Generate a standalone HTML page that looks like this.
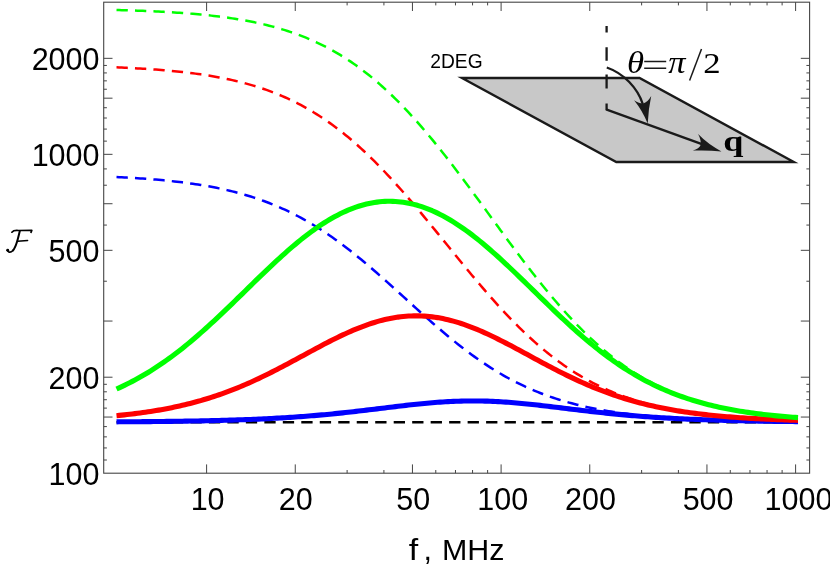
<!DOCTYPE html>
<html><head><meta charset="utf-8"><title>F vs f</title>
<style>
html,body{margin:0;padding:0;background:#fff;}
body{width:830px;height:570px;overflow:hidden;font-family:"Liberation Sans",sans-serif;}
svg{display:block;will-change:transform}
text{font-family:"Liberation Sans",sans-serif;fill:#000}
.ser{font-family:"Liberation Serif",serif}
</style></head><body>
<svg width="830" height="570" viewBox="0 0 830 570">
<rect width="830" height="570" fill="#fff"/>
<!-- inset -->
<g id="inset">
<polygon points="462,78 639.5,78 793.8,162 616.3,162" fill="#c8c8c8" stroke="#1a1a1a" stroke-width="2.4" stroke-linejoin="miter" stroke-miterlimit="10"/>
<path d="M606.6,26.1V32.6 M606.6,47.2V60.7 M606.6,74.4V88.4 M606.6,103.5V110" stroke="#1a1a1a" stroke-width="2.3" fill="none"/>
<path d="M606,109.3 L704,144.9" stroke="#1a1a1a" stroke-width="2.4" fill="none" stroke-linecap="butt"/>
<path d="M721.5,151.4 Q707,149.9 692.8,150.6 Q699.3,148.5 700.6,145 Q701.3,140 698.1,134.1 Q708.3,144.6 721.5,151.4 Z" fill="#1a1a1a"/>
<path d="M606.8,67.5 C624,73.5 637.5,88 642.8,104" stroke="#1a1a1a" stroke-width="2.3" fill="none"/>
<path d="M647.7,123.4 Q642.3,110.5 634.1,100.2 Q639.5,103.6 643.2,103.4 Q647.5,102.5 651.2,96 Q648.4,109 647.7,123.4 Z" fill="#1a1a1a"/>
<text x="430.3" y="67.8" font-size="20.6" textLength="52.3" lengthAdjust="spacingAndGlyphs" fill="#1a1a1a">2DEG</text>
<g>
<text class="ser" transform="translate(626.9,72.8) scale(1.097,1)" font-size="31.7" font-style="italic" fill="#1a1a1a">θ</text>
<text class="ser" transform="translate(668.2,72.8) scale(1.104,1)" font-size="31.2" font-style="italic" fill="#1a1a1a">π</text>
<text class="ser" transform="translate(703.2,72.5) scale(1.152,1)" font-size="30.15" fill="#1a1a1a">2</text>
<text class="ser" transform="translate(723.35,151.3) scale(1.208,1)" font-size="30" font-weight="bold" fill="#1a1a1a">q</text>
</g>
<path d="M644.2,61.6H666.2 M644.2,68.2H666.2" stroke="#1a1a1a" stroke-width="1.5" fill="none"/>
<path d="M689.6,80.4L701.5,49" stroke="#1a1a1a" stroke-width="1.5" fill="none"/>
</g>
<!-- curves -->
<g fill="none" stroke-linejoin="round">
<path d="M116.5,422.2 H798" stroke="#000" stroke-width="2.4" stroke-dasharray="11.3 7.18"/>
<g stroke-width="2.5" stroke-dasharray="11.3 7.18">
<path d="M116.51,177.07 L119.14,177.20 L121.77,177.33 L124.40,177.46 L127.03,177.61 L129.66,177.76 L132.29,177.91 L134.92,178.07 L137.56,178.24 L140.19,178.41 L142.82,178.59 L145.45,178.78 L148.08,178.98 L150.71,179.18 L153.34,179.39 L155.97,179.61 L158.61,179.84 L161.24,180.08 L163.87,180.32 L166.50,180.58 L169.13,180.85 L171.76,181.12 L174.39,181.41 L177.02,181.71 L179.66,182.02 L182.29,182.34 L184.92,182.68 L187.55,183.03 L190.18,183.39 L192.81,183.76 L195.44,184.15 L198.07,184.56 L200.71,184.98 L203.34,185.41 L205.97,185.86 L208.60,186.33 L211.23,186.81 L213.86,187.32 L216.49,187.84 L219.12,188.38 L221.76,188.94 L224.39,189.52 L227.02,190.12 L229.65,190.74 L232.28,191.38 L234.91,192.04 L237.54,192.73 L240.17,193.44 L242.81,194.18 L245.44,194.94 L248.07,195.73 L250.70,196.54 L253.33,197.38 L255.96,198.24 L258.59,199.14 L261.22,200.06 L263.86,201.01 L266.49,201.99 L269.12,203.00 L271.75,204.04 L274.38,205.12 L277.01,206.22 L279.64,207.36 L282.27,208.53 L284.91,209.73 L287.54,210.97 L290.17,212.24 L292.80,213.54 L295.43,214.88 L298.06,216.26 L300.69,217.66 L303.32,219.11 L305.96,220.59 L308.59,222.10 L311.22,223.65 L313.85,225.24 L316.48,226.86 L319.11,228.52 L321.74,230.21 L324.37,231.94 L327.01,233.71 L329.64,235.50 L332.27,237.33 L334.90,239.20 L337.53,241.10 L340.16,243.03 L342.79,244.99 L345.42,246.99 L348.06,249.01 L350.69,251.07 L353.32,253.15 L355.95,255.27 L358.58,257.41 L361.21,259.57 L363.84,261.76 L366.47,263.97 L369.11,266.21 L371.74,268.46 L374.37,270.74 L377.00,273.04 L379.63,275.35 L382.26,277.67 L384.89,280.01 L387.52,282.37 L390.16,284.73 L392.79,287.10 L395.42,289.49 L398.05,291.87 L400.68,294.26 L403.31,296.66 L405.94,299.05 L408.57,301.45 L411.21,303.84 L413.84,306.23 L416.47,308.61 L419.10,310.98 L421.73,313.35 L424.36,315.70 L426.99,318.05 L429.62,320.38 L432.26,322.69 L434.89,324.99 L437.52,327.27 L440.15,329.53 L442.78,331.77 L445.41,333.99 L448.04,336.18 L450.67,338.35 L453.31,340.50 L455.94,342.62 L458.57,344.71 L461.20,346.77 L463.83,348.80 L466.46,350.80 L469.09,352.77 L471.72,354.71 L474.36,356.62 L476.99,358.49 L479.62,360.33 L482.25,362.13 L484.88,363.90 L487.51,365.64 L490.14,367.34 L492.77,369.00 L495.41,370.63 L498.04,372.23 L500.67,373.79 L503.30,375.31 L505.93,376.80 L508.56,378.25 L511.19,379.66 L513.82,381.04 L516.46,382.39 L519.09,383.70 L521.72,384.98 L524.35,386.22 L526.98,387.43 L529.61,388.61 L532.24,389.75 L534.87,390.86 L537.51,391.94 L540.14,392.99 L542.77,394.01 L545.40,395.00 L548.03,395.95 L550.66,396.88 L553.29,397.78 L555.92,398.65 L558.56,399.50 L561.19,400.32 L563.82,401.11 L566.45,401.87 L569.08,402.61 L571.71,403.33 L574.34,404.02 L576.97,404.69 L579.61,405.34 L582.24,405.97 L584.87,406.57 L587.50,407.15 L590.13,407.72 L592.76,408.26 L595.39,408.79 L598.02,409.29 L600.66,409.78 L603.29,410.25 L605.92,410.71 L608.55,411.14 L611.18,411.57 L613.81,411.97 L616.44,412.37 L619.07,412.74 L621.71,413.11 L624.34,413.46 L626.97,413.80 L629.60,414.12 L632.23,414.44 L634.86,414.74 L637.49,415.03 L640.12,415.31 L642.76,415.58 L645.39,415.83 L648.02,416.08 L650.65,416.32 L653.28,416.55 L655.91,416.77 L658.54,416.99 L661.17,417.19 L663.81,417.39 L666.44,417.58 L669.07,417.76 L671.70,417.94 L674.33,418.11 L676.96,418.27 L679.59,418.42 L682.22,418.57 L684.86,418.72 L687.49,418.85 L690.12,418.99 L692.75,419.11 L695.38,419.24 L698.01,419.36 L700.64,419.47 L703.27,419.58 L705.91,419.68 L708.54,419.78 L711.17,419.88 L713.80,419.97 L716.43,420.06 L719.06,420.15 L721.69,420.23 L724.32,420.31 L726.96,420.38 L729.59,420.46 L732.22,420.53 L734.85,420.59 L737.48,420.66 L740.11,420.72 L742.74,420.78 L745.37,420.84 L748.01,420.89 L750.64,420.94 L753.27,420.99 L755.90,421.04 L758.53,421.09 L761.16,421.13 L763.79,421.18 L766.42,421.22 L769.06,421.26 L771.69,421.29 L774.32,421.33 L776.95,421.37 L779.58,421.40 L782.21,421.43 L784.84,421.46 L787.47,421.49 L790.11,421.52 L792.74,421.55 L795.37,421.58 L798.00,421.60" stroke="#0000ff"/>
<path d="M116.51,67.37 L119.14,67.48 L121.77,67.59 L124.40,67.71 L127.03,67.84 L129.66,67.97 L132.29,68.10 L134.92,68.24 L137.56,68.39 L140.19,68.54 L142.82,68.70 L145.45,68.87 L148.08,69.04 L150.71,69.22 L153.34,69.40 L155.97,69.60 L158.61,69.80 L161.24,70.01 L163.87,70.23 L166.50,70.45 L169.13,70.69 L171.76,70.93 L174.39,71.19 L177.02,71.45 L179.66,71.73 L182.29,72.01 L184.92,72.31 L187.55,72.62 L190.18,72.94 L192.81,73.27 L195.44,73.62 L198.07,73.98 L200.71,74.36 L203.34,74.74 L205.97,75.15 L208.60,75.57 L211.23,76.00 L213.86,76.45 L216.49,76.92 L219.12,77.41 L221.76,77.92 L224.39,78.44 L227.02,78.98 L229.65,79.55 L232.28,80.13 L234.91,80.74 L237.54,81.36 L240.17,82.01 L242.81,82.69 L245.44,83.39 L248.07,84.11 L250.70,84.86 L253.33,85.63 L255.96,86.44 L258.59,87.27 L261.22,88.13 L263.86,89.01 L266.49,89.93 L269.12,90.88 L271.75,91.86 L274.38,92.87 L277.01,93.92 L279.64,95.00 L282.27,96.12 L284.91,97.27 L287.54,98.45 L290.17,99.67 L292.80,100.94 L295.43,102.23 L298.06,103.57 L300.69,104.95 L303.32,106.37 L305.96,107.83 L308.59,109.32 L311.22,110.87 L313.85,112.45 L316.48,114.08 L319.11,115.75 L321.74,117.46 L324.37,119.22 L327.01,121.03 L329.64,122.87 L332.27,124.77 L334.90,126.71 L337.53,128.69 L340.16,130.72 L342.79,132.80 L345.42,134.92 L348.06,137.08 L350.69,139.30 L353.32,141.55 L355.95,143.85 L358.58,146.20 L361.21,148.59 L363.84,151.02 L366.47,153.50 L369.11,156.02 L371.74,158.58 L374.37,161.19 L377.00,163.83 L379.63,166.51 L382.26,169.24 L384.89,172.00 L387.52,174.79 L390.16,177.62 L392.79,180.49 L395.42,183.39 L398.05,186.32 L400.68,189.28 L403.31,192.27 L405.94,195.29 L408.57,198.34 L411.21,201.41 L413.84,204.50 L416.47,207.62 L419.10,210.75 L421.73,213.91 L424.36,217.08 L426.99,220.26 L429.62,223.46 L432.26,226.67 L434.89,229.89 L437.52,233.11 L440.15,236.35 L442.78,239.58 L445.41,242.82 L448.04,246.06 L450.67,249.30 L453.31,252.54 L455.94,255.76 L458.57,258.99 L461.20,262.20 L463.83,265.40 L466.46,268.59 L469.09,271.77 L471.72,274.93 L474.36,278.07 L476.99,281.20 L479.62,284.30 L482.25,287.38 L484.88,290.43 L487.51,293.46 L490.14,296.46 L492.77,299.44 L495.41,302.38 L498.04,305.29 L500.67,308.17 L503.30,311.02 L505.93,313.83 L508.56,316.60 L511.19,319.34 L513.82,322.04 L516.46,324.70 L519.09,327.31 L521.72,329.89 L524.35,332.43 L526.98,334.92 L529.61,337.37 L532.24,339.78 L534.87,342.15 L537.51,344.46 L540.14,346.74 L542.77,348.97 L545.40,351.15 L548.03,353.29 L550.66,355.38 L553.29,357.43 L555.92,359.43 L558.56,361.39 L561.19,363.30 L563.82,365.17 L566.45,366.99 L569.08,368.76 L571.71,370.50 L574.34,372.18 L576.97,373.83 L579.61,375.43 L582.24,376.99 L584.87,378.50 L587.50,379.98 L590.13,381.41 L592.76,382.80 L595.39,384.16 L598.02,385.47 L600.66,386.75 L603.29,387.98 L605.92,389.18 L608.55,390.35 L611.18,391.48 L613.81,392.57 L616.44,393.63 L619.07,394.66 L621.71,395.65 L624.34,396.61 L626.97,397.54 L629.60,398.44 L632.23,399.31 L634.86,400.15 L637.49,400.96 L640.12,401.75 L642.76,402.51 L645.39,403.24 L648.02,403.95 L650.65,404.63 L653.28,405.29 L655.91,405.93 L658.54,406.54 L661.17,407.14 L663.81,407.71 L666.44,408.26 L669.07,408.79 L671.70,409.30 L674.33,409.80 L676.96,410.27 L679.59,410.73 L682.22,411.17 L684.86,411.60 L687.49,412.01 L690.12,412.40 L692.75,412.78 L695.38,413.15 L698.01,413.50 L700.64,413.84 L703.27,414.16 L705.91,414.48 L708.54,414.78 L711.17,415.07 L713.80,415.35 L716.43,415.62 L719.06,415.88 L721.69,416.12 L724.32,416.36 L726.96,416.59 L729.59,416.81 L732.22,417.03 L734.85,417.23 L737.48,417.43 L740.11,417.62 L742.74,417.80 L745.37,417.97 L748.01,418.14 L750.64,418.30 L753.27,418.46 L755.90,418.61 L758.53,418.75 L761.16,418.89 L763.79,419.02 L766.42,419.14 L769.06,419.27 L771.69,419.38 L774.32,419.50 L776.95,419.60 L779.58,419.71 L782.21,419.81 L784.84,419.90 L787.47,419.99 L790.11,420.08 L792.74,420.17 L795.37,420.25 L798.00,420.33" stroke="#ff0000"/>
<path d="M116.51,10.00 L119.14,10.08 L121.77,10.15 L124.40,10.23 L127.03,10.31 L129.66,10.39 L132.29,10.48 L134.92,10.57 L137.56,10.66 L140.19,10.76 L142.82,10.86 L145.45,10.97 L148.08,11.08 L150.71,11.20 L153.34,11.32 L155.97,11.44 L158.61,11.57 L161.24,11.71 L163.87,11.85 L166.50,11.99 L169.13,12.15 L171.76,12.31 L174.39,12.47 L177.02,12.64 L179.66,12.82 L182.29,13.01 L184.92,13.20 L187.55,13.40 L190.18,13.61 L192.81,13.83 L195.44,14.06 L198.07,14.29 L200.71,14.54 L203.34,14.80 L205.97,15.06 L208.60,15.34 L211.23,15.62 L213.86,15.92 L216.49,16.23 L219.12,16.56 L221.76,16.89 L224.39,17.24 L227.02,17.60 L229.65,17.98 L232.28,18.37 L234.91,18.77 L237.54,19.19 L240.17,19.63 L242.81,20.08 L245.44,20.56 L248.07,21.04 L250.70,21.55 L253.33,22.08 L255.96,22.63 L258.59,23.19 L261.22,23.78 L263.86,24.39 L266.49,25.02 L269.12,25.68 L271.75,26.36 L274.38,27.06 L277.01,27.79 L279.64,28.55 L282.27,29.33 L284.91,30.14 L287.54,30.97 L290.17,31.84 L292.80,32.74 L295.43,33.67 L298.06,34.63 L300.69,35.62 L303.32,36.64 L305.96,37.70 L308.59,38.80 L311.22,39.93 L313.85,41.09 L316.48,42.29 L319.11,43.53 L321.74,44.81 L324.37,46.13 L327.01,47.49 L329.64,48.89 L332.27,50.34 L334.90,51.82 L337.53,53.35 L340.16,54.92 L342.79,56.54 L345.42,58.20 L348.06,59.91 L350.69,61.66 L353.32,63.46 L355.95,65.31 L358.58,67.20 L361.21,69.15 L363.84,71.14 L366.47,73.18 L369.11,75.26 L371.74,77.40 L374.37,79.59 L377.00,81.82 L379.63,84.11 L382.26,86.44 L384.89,88.82 L387.52,91.26 L390.16,93.74 L392.79,96.26 L395.42,98.84 L398.05,101.47 L400.68,104.14 L403.31,106.86 L405.94,109.62 L408.57,112.43 L411.21,115.29 L413.84,118.18 L416.47,121.13 L419.10,124.11 L421.73,127.14 L424.36,130.20 L426.99,133.31 L429.62,136.45 L432.26,139.63 L434.89,142.85 L437.52,146.10 L440.15,149.38 L442.78,152.69 L445.41,156.04 L448.04,159.41 L450.67,162.81 L453.31,166.24 L455.94,169.69 L458.57,173.16 L461.20,176.66 L463.83,180.17 L466.46,183.70 L469.09,187.25 L471.72,190.81 L474.36,194.39 L476.99,197.97 L479.62,201.56 L482.25,205.16 L484.88,208.77 L487.51,212.37 L490.14,215.98 L492.77,219.59 L495.41,223.20 L498.04,226.80 L500.67,230.40 L503.30,233.99 L505.93,237.57 L508.56,241.14 L511.19,244.69 L513.82,248.23 L516.46,251.76 L519.09,255.26 L521.72,258.75 L524.35,262.21 L526.98,265.66 L529.61,269.07 L532.24,272.46 L534.87,275.82 L537.51,279.16 L540.14,282.46 L542.77,285.73 L545.40,288.97 L548.03,292.17 L550.66,295.33 L553.29,298.46 L555.92,301.55 L558.56,304.60 L561.19,307.61 L563.82,310.57 L566.45,313.50 L569.08,316.38 L571.71,319.22 L574.34,322.01 L576.97,324.76 L579.61,327.46 L582.24,330.11 L584.87,332.71 L587.50,335.27 L590.13,337.78 L592.76,340.24 L595.39,342.65 L598.02,345.02 L600.66,347.33 L603.29,349.59 L605.92,351.81 L608.55,353.98 L611.18,356.09 L613.81,358.16 L616.44,360.18 L619.07,362.15 L621.71,364.08 L624.34,365.95 L626.97,367.78 L629.60,369.56 L632.23,371.29 L634.86,372.98 L637.49,374.63 L640.12,376.22 L642.76,377.78 L645.39,379.29 L648.02,380.76 L650.65,382.18 L653.28,383.57 L655.91,384.91 L658.54,386.21 L661.17,387.48 L663.81,388.70 L666.44,389.89 L669.07,391.04 L671.70,392.16 L674.33,393.24 L676.96,394.28 L679.59,395.29 L682.22,396.27 L684.86,397.22 L687.49,398.13 L690.12,399.02 L692.75,399.87 L695.38,400.70 L698.01,401.50 L700.64,402.27 L703.27,403.01 L705.91,403.73 L708.54,404.43 L711.17,405.10 L713.80,405.74 L716.43,406.36 L719.06,406.97 L721.69,407.55 L724.32,408.10 L726.96,408.64 L729.59,409.16 L732.22,409.66 L734.85,410.14 L737.48,410.61 L740.11,411.05 L742.74,411.49 L745.37,411.90 L748.01,412.30 L750.64,412.68 L753.27,413.05 L755.90,413.41 L758.53,413.75 L761.16,414.08 L763.79,414.40 L766.42,414.70 L769.06,415.00 L771.69,415.28 L774.32,415.55 L776.95,415.81 L779.58,416.07 L782.21,416.31 L784.84,416.54 L787.47,416.76 L790.11,416.98 L792.74,417.18 L795.37,417.38 L798.00,417.57" stroke="#00ff00"/>
</g>
<g stroke-width="5.1">
<path d="M116.51,421.84 L119.14,421.82 L121.77,421.81 L124.40,421.79 L127.03,421.77 L129.66,421.76 L132.29,421.74 L134.92,421.72 L137.56,421.70 L140.19,421.68 L142.82,421.66 L145.45,421.63 L148.08,421.61 L150.71,421.59 L153.34,421.56 L155.97,421.53 L158.61,421.51 L161.24,421.48 L163.87,421.45 L166.50,421.42 L169.13,421.38 L171.76,421.35 L174.39,421.32 L177.02,421.28 L179.66,421.24 L182.29,421.20 L184.92,421.16 L187.55,421.12 L190.18,421.07 L192.81,421.03 L195.44,420.98 L198.07,420.93 L200.71,420.88 L203.34,420.83 L205.97,420.77 L208.60,420.71 L211.23,420.65 L213.86,420.59 L216.49,420.52 L219.12,420.46 L221.76,420.39 L224.39,420.32 L227.02,420.24 L229.65,420.16 L232.28,420.08 L234.91,420.00 L237.54,419.91 L240.17,419.82 L242.81,419.73 L245.44,419.63 L248.07,419.53 L250.70,419.43 L253.33,419.32 L255.96,419.21 L258.59,419.09 L261.22,418.97 L263.86,418.85 L266.49,418.72 L269.12,418.59 L271.75,418.45 L274.38,418.31 L277.01,418.17 L279.64,418.02 L282.27,417.86 L284.91,417.70 L287.54,417.54 L290.17,417.37 L292.80,417.20 L295.43,417.01 L298.06,416.83 L300.69,416.64 L303.32,416.44 L305.96,416.24 L308.59,416.03 L311.22,415.82 L313.85,415.60 L316.48,415.38 L319.11,415.15 L321.74,414.91 L324.37,414.67 L327.01,414.43 L329.64,414.18 L332.27,413.92 L334.90,413.66 L337.53,413.39 L340.16,413.12 L342.79,412.84 L345.42,412.56 L348.06,412.27 L350.69,411.98 L353.32,411.68 L355.95,411.38 L358.58,411.08 L361.21,410.77 L363.84,410.46 L366.47,410.15 L369.11,409.83 L371.74,409.51 L374.37,409.20 L377.00,408.87 L379.63,408.55 L382.26,408.23 L384.89,407.91 L387.52,407.59 L390.16,407.26 L392.79,406.95 L395.42,406.63 L398.05,406.31 L400.68,406.00 L403.31,405.70 L405.94,405.39 L408.57,405.09 L411.21,404.80 L413.84,404.52 L416.47,404.24 L419.10,403.97 L421.73,403.70 L424.36,403.45 L426.99,403.20 L429.62,402.97 L432.26,402.74 L434.89,402.53 L437.52,402.33 L440.15,402.14 L442.78,401.96 L445.41,401.79 L448.04,401.64 L450.67,401.50 L453.31,401.38 L455.94,401.27 L458.57,401.18 L461.20,401.10 L463.83,401.04 L466.46,400.99 L469.09,400.96 L471.72,400.94 L474.36,400.94 L476.99,400.96 L479.62,400.99 L482.25,401.03 L484.88,401.10 L487.51,401.17 L490.14,401.26 L492.77,401.37 L495.41,401.49 L498.04,401.63 L500.67,401.78 L503.30,401.94 L505.93,402.12 L508.56,402.31 L511.19,402.51 L513.82,402.72 L516.46,402.95 L519.09,403.18 L521.72,403.43 L524.35,403.68 L526.98,403.94 L529.61,404.21 L532.24,404.49 L534.87,404.78 L537.51,405.07 L540.14,405.37 L542.77,405.67 L545.40,405.98 L548.03,406.29 L550.66,406.60 L553.29,406.92 L555.92,407.24 L558.56,407.56 L561.19,407.88 L563.82,408.20 L566.45,408.53 L569.08,408.85 L571.71,409.17 L574.34,409.49 L576.97,409.81 L579.61,410.12 L582.24,410.44 L584.87,410.75 L587.50,411.05 L590.13,411.36 L592.76,411.66 L595.39,411.95 L598.02,412.25 L600.66,412.53 L603.29,412.82 L605.92,413.09 L608.55,413.37 L611.18,413.64 L613.81,413.90 L616.44,414.16 L619.07,414.41 L621.71,414.65 L624.34,414.90 L626.97,415.13 L629.60,415.36 L632.23,415.59 L634.86,415.80 L637.49,416.02 L640.12,416.22 L642.76,416.43 L645.39,416.62 L648.02,416.81 L650.65,417.00 L653.28,417.18 L655.91,417.36 L658.54,417.53 L661.17,417.69 L663.81,417.85 L666.44,418.01 L669.07,418.16 L671.70,418.30 L674.33,418.44 L676.96,418.58 L679.59,418.71 L682.22,418.84 L684.86,418.96 L687.49,419.08 L690.12,419.20 L692.75,419.31 L695.38,419.42 L698.01,419.52 L700.64,419.62 L703.27,419.72 L705.91,419.81 L708.54,419.90 L711.17,419.99 L713.80,420.07 L716.43,420.16 L719.06,420.23 L721.69,420.31 L724.32,420.38 L726.96,420.45 L729.59,420.52 L732.22,420.58 L734.85,420.65 L737.48,420.71 L740.11,420.77 L742.74,420.82 L745.37,420.87 L748.01,420.93 L750.64,420.98 L753.27,421.02 L755.90,421.07 L758.53,421.11 L761.16,421.16 L763.79,421.20 L766.42,421.24 L769.06,421.28 L771.69,421.31 L774.32,421.35 L776.95,421.38 L779.58,421.41 L782.21,421.44 L784.84,421.47 L787.47,421.50 L790.11,421.53 L792.74,421.56 L795.37,421.58 L798.00,421.61" stroke="#0000ff"/>
<path d="M116.51,415.68 L119.14,415.41 L121.77,415.14 L124.40,414.86 L127.03,414.57 L129.66,414.27 L132.29,413.95 L134.92,413.63 L137.56,413.29 L140.19,412.94 L142.82,412.58 L145.45,412.20 L148.08,411.82 L150.71,411.41 L153.34,411.00 L155.97,410.56 L158.61,410.12 L161.24,409.65 L163.87,409.18 L166.50,408.68 L169.13,408.17 L171.76,407.64 L174.39,407.10 L177.02,406.53 L179.66,405.95 L182.29,405.35 L184.92,404.73 L187.55,404.09 L190.18,403.43 L192.81,402.75 L195.44,402.05 L198.07,401.33 L200.71,400.58 L203.34,399.82 L205.97,399.03 L208.60,398.23 L211.23,397.40 L213.86,396.54 L216.49,395.67 L219.12,394.77 L221.76,393.85 L224.39,392.90 L227.02,391.94 L229.65,390.95 L232.28,389.93 L234.91,388.90 L237.54,387.84 L240.17,386.75 L242.81,385.65 L245.44,384.52 L248.07,383.38 L250.70,382.21 L253.33,381.01 L255.96,379.80 L258.59,378.57 L261.22,377.32 L263.86,376.05 L266.49,374.76 L269.12,373.46 L271.75,372.14 L274.38,370.80 L277.01,369.45 L279.64,368.09 L282.27,366.71 L284.91,365.32 L287.54,363.92 L290.17,362.52 L292.80,361.10 L295.43,359.68 L298.06,358.26 L300.69,356.83 L303.32,355.40 L305.96,353.97 L308.59,352.55 L311.22,351.12 L313.85,349.70 L316.48,348.29 L319.11,346.89 L321.74,345.49 L324.37,344.11 L327.01,342.74 L329.64,341.39 L332.27,340.06 L334.90,338.74 L337.53,337.44 L340.16,336.17 L342.79,334.92 L345.42,333.70 L348.06,332.51 L350.69,331.34 L353.32,330.21 L355.95,329.11 L358.58,328.04 L361.21,327.01 L363.84,326.02 L366.47,325.06 L369.11,324.15 L371.74,323.28 L374.37,322.45 L377.00,321.66 L379.63,320.92 L382.26,320.23 L384.89,319.58 L387.52,318.99 L390.16,318.44 L392.79,317.94 L395.42,317.50 L398.05,317.10 L400.68,316.76 L403.31,316.47 L405.94,316.24 L408.57,316.06 L411.21,315.93 L413.84,315.85 L416.47,315.83 L419.10,315.87 L421.73,315.96 L424.36,316.10 L426.99,316.30 L429.62,316.55 L432.26,316.85 L434.89,317.21 L437.52,317.61 L440.15,318.07 L442.78,318.58 L445.41,319.14 L448.04,319.75 L450.67,320.41 L453.31,321.12 L455.94,321.87 L458.57,322.67 L461.20,323.51 L463.83,324.39 L466.46,325.31 L469.09,326.28 L471.72,327.28 L474.36,328.32 L476.99,329.40 L479.62,330.51 L482.25,331.65 L484.88,332.82 L487.51,334.03 L490.14,335.26 L492.77,336.51 L495.41,337.79 L498.04,339.09 L500.67,340.41 L503.30,341.75 L505.93,343.11 L508.56,344.48 L511.19,345.87 L513.82,347.27 L516.46,348.67 L519.09,350.09 L521.72,351.51 L524.35,352.93 L526.98,354.36 L529.61,355.79 L532.24,357.22 L534.87,358.64 L537.51,360.07 L540.14,361.48 L542.77,362.90 L545.40,364.30 L548.03,365.70 L550.66,367.08 L553.29,368.45 L555.92,369.82 L558.56,371.16 L561.19,372.50 L563.82,373.81 L566.45,375.11 L569.08,376.39 L571.71,377.66 L574.34,378.91 L576.97,380.13 L579.61,381.34 L582.24,382.52 L584.87,383.69 L587.50,384.83 L590.13,385.95 L592.76,387.05 L595.39,388.12 L598.02,389.18 L600.66,390.21 L603.29,391.22 L605.92,392.20 L608.55,393.16 L611.18,394.10 L613.81,395.01 L616.44,395.91 L619.07,396.78 L621.71,397.62 L624.34,398.45 L626.97,399.25 L629.60,400.03 L632.23,400.79 L634.86,401.52 L637.49,402.24 L640.12,402.93 L642.76,403.61 L645.39,404.26 L648.02,404.90 L650.65,405.51 L653.28,406.11 L655.91,406.69 L658.54,407.24 L661.17,407.79 L663.81,408.31 L666.44,408.82 L669.07,409.31 L671.70,409.78 L674.33,410.24 L676.96,410.68 L679.59,411.11 L682.22,411.52 L684.86,411.92 L687.49,412.31 L690.12,412.68 L692.75,413.04 L695.38,413.38 L698.01,413.72 L700.64,414.04 L703.27,414.35 L705.91,414.65 L708.54,414.94 L711.17,415.22 L713.80,415.49 L716.43,415.74 L719.06,415.99 L721.69,416.23 L724.32,416.46 L726.96,416.69 L729.59,416.90 L732.22,417.11 L734.85,417.30 L737.48,417.49 L740.11,417.68 L742.74,417.86 L745.37,418.03 L748.01,418.19 L750.64,418.35 L753.27,418.50 L755.90,418.64 L758.53,418.78 L761.16,418.92 L763.79,419.05 L766.42,419.17 L769.06,419.29 L771.69,419.41 L774.32,419.52 L776.95,419.62 L779.58,419.73 L782.21,419.82 L784.84,419.92 L787.47,420.01 L790.11,420.10 L792.74,420.18 L795.37,420.26 L798.00,420.34" stroke="#ff0000"/>
<path d="M116.51,388.98 L119.14,387.80 L121.77,386.59 L124.40,385.34 L127.03,384.05 L129.66,382.73 L132.29,381.37 L134.92,379.98 L137.56,378.54 L140.19,377.07 L142.82,375.57 L145.45,374.02 L148.08,372.44 L150.71,370.82 L153.34,369.16 L155.97,367.46 L158.61,365.72 L161.24,363.94 L163.87,362.13 L166.50,360.28 L169.13,358.39 L171.76,356.46 L174.39,354.50 L177.02,352.50 L179.66,350.46 L182.29,348.39 L184.92,346.28 L187.55,344.14 L190.18,341.97 L192.81,339.76 L195.44,337.52 L198.07,335.25 L200.71,332.95 L203.34,330.63 L205.97,328.27 L208.60,325.89 L211.23,323.49 L213.86,321.06 L216.49,318.61 L219.12,316.14 L221.76,313.66 L224.39,311.15 L227.02,308.63 L229.65,306.10 L232.28,303.56 L234.91,301.00 L237.54,298.44 L240.17,295.87 L242.81,293.30 L245.44,290.73 L248.07,288.15 L250.70,285.58 L253.33,283.01 L255.96,280.45 L258.59,277.90 L261.22,275.36 L263.86,272.83 L266.49,270.31 L269.12,267.81 L271.75,265.33 L274.38,262.87 L277.01,260.44 L279.64,258.02 L282.27,255.64 L284.91,253.29 L287.54,250.96 L290.17,248.67 L292.80,246.42 L295.43,244.20 L298.06,242.02 L300.69,239.88 L303.32,237.79 L305.96,235.74 L308.59,233.73 L311.22,231.77 L313.85,229.86 L316.48,228.01 L319.11,226.20 L321.74,224.45 L324.37,222.76 L327.01,221.12 L329.64,219.53 L332.27,218.01 L334.90,216.55 L337.53,215.15 L340.16,213.81 L342.79,212.54 L345.42,211.33 L348.06,210.18 L350.69,209.11 L353.32,208.09 L355.95,207.15 L358.58,206.28 L361.21,205.47 L363.84,204.74 L366.47,204.07 L369.11,203.47 L371.74,202.95 L374.37,202.50 L377.00,202.12 L379.63,201.81 L382.26,201.57 L384.89,201.41 L387.52,201.32 L390.16,201.30 L392.79,201.35 L395.42,201.47 L398.05,201.67 L400.68,201.94 L403.31,202.29 L405.94,202.70 L408.57,203.19 L411.21,203.74 L413.84,204.37 L416.47,205.07 L419.10,205.84 L421.73,206.68 L424.36,207.59 L426.99,208.56 L429.62,209.60 L432.26,210.71 L434.89,211.89 L437.52,213.13 L440.15,214.43 L442.78,215.80 L445.41,217.23 L448.04,218.72 L450.67,220.27 L453.31,221.88 L455.94,223.54 L458.57,225.26 L461.20,227.04 L463.83,228.87 L466.46,230.75 L469.09,232.68 L471.72,234.66 L474.36,236.69 L476.99,238.76 L479.62,240.88 L482.25,243.04 L484.88,245.23 L487.51,247.47 L490.14,249.74 L492.77,252.05 L495.41,254.39 L498.04,256.75 L500.67,259.15 L503.30,261.57 L505.93,264.02 L508.56,266.49 L511.19,268.98 L513.82,271.49 L516.46,274.01 L519.09,276.55 L521.72,279.09 L524.35,281.65 L526.98,284.22 L529.61,286.79 L532.24,289.36 L534.87,291.93 L537.51,294.51 L540.14,297.08 L542.77,299.64 L545.40,302.20 L548.03,304.75 L550.66,307.29 L553.29,309.81 L555.92,312.33 L558.56,314.82 L561.19,317.30 L563.82,319.76 L566.45,322.20 L569.08,324.62 L571.71,327.01 L574.34,329.38 L576.97,331.72 L579.61,334.03 L582.24,336.32 L584.87,338.57 L587.50,340.80 L590.13,342.99 L592.76,345.15 L595.39,347.27 L598.02,349.37 L600.66,351.42 L603.29,353.44 L605.92,355.42 L608.55,357.37 L611.18,359.28 L613.81,361.15 L616.44,362.99 L619.07,364.78 L621.71,366.54 L624.34,368.26 L626.97,369.94 L629.60,371.58 L632.23,373.18 L634.86,374.75 L637.49,376.28 L640.12,377.77 L642.76,379.22 L645.39,380.63 L648.02,382.01 L650.65,383.35 L653.28,384.66 L655.91,385.93 L658.54,387.16 L661.17,388.36 L663.81,389.52 L666.44,390.65 L669.07,391.75 L671.70,392.82 L674.33,393.85 L676.96,394.85 L679.59,395.82 L682.22,396.76 L684.86,397.68 L687.49,398.56 L690.12,399.41 L692.75,400.24 L695.38,401.04 L698.01,401.81 L700.64,402.56 L703.27,403.28 L705.91,403.98 L708.54,404.66 L711.17,405.31 L713.80,405.94 L716.43,406.55 L719.06,407.14 L721.69,407.70 L724.32,408.25 L726.96,408.78 L729.59,409.29 L732.22,409.78 L734.85,410.25 L737.48,410.71 L740.11,411.15 L742.74,411.57 L745.37,411.98 L748.01,412.37 L750.64,412.75 L753.27,413.12 L755.90,413.47 L758.53,413.81 L761.16,414.13 L763.79,414.44 L766.42,414.75 L769.06,415.04 L771.69,415.32 L774.32,415.59 L776.95,415.84 L779.58,416.09 L782.21,416.33 L784.84,416.56 L787.47,416.79 L790.11,417.00 L792.74,417.20 L795.37,417.40 L798.00,417.59" stroke="#00ff00"/>
</g>
</g>
<!-- frame -->
<rect x="103.7" y="2.2" width="705.9" height="471.0" fill="none" stroke="#454545" stroke-width="1.1"/>
<path d="M206.60,473.2 v-8.8 M206.60,2.2 v8.8 M295.25,473.2 v-8.8 M295.25,2.2 v8.8 M412.45,473.2 v-8.8 M412.45,2.2 v8.8 M501.10,473.2 v-8.8 M501.10,2.2 v8.8 M589.75,473.2 v-8.8 M589.75,2.2 v8.8 M706.95,473.2 v-8.8 M706.95,2.2 v8.8 M795.60,473.2 v-8.8 M795.60,2.2 v8.8 M347.11,473.2 v-3.2 M347.11,2.2 v3.2 M383.91,473.2 v-3.2 M383.91,2.2 v3.2 M435.77,473.2 v-3.2 M435.77,2.2 v3.2 M455.48,473.2 v-3.2 M455.48,2.2 v3.2 M472.56,473.2 v-3.2 M472.56,2.2 v3.2 M487.62,473.2 v-3.2 M487.62,2.2 v3.2 M641.61,473.2 v-3.2 M641.61,2.2 v3.2 M678.41,473.2 v-3.2 M678.41,2.2 v3.2 M730.27,473.2 v-3.2 M730.27,2.2 v3.2 M749.98,473.2 v-3.2 M749.98,2.2 v3.2 M767.06,473.2 v-3.2 M767.06,2.2 v3.2 M782.12,473.2 v-3.2 M782.12,2.2 v3.2 M103.7,417.05 h8.8 M809.6,417.05 h-8.8 M103.7,377.21 h8.8 M809.6,377.21 h-8.8 M103.7,321.06 h8.8 M809.6,321.06 h-8.8 M103.7,250.32 h8.8 M809.6,250.32 h-8.8 M103.7,203.72 h8.8 M809.6,203.72 h-8.8 M103.7,154.33 h8.8 M809.6,154.33 h-8.8 M103.7,98.18 h8.8 M809.6,98.18 h-8.8 M103.7,58.34 h8.8 M809.6,58.34 h-8.8 M103.7,460.00 h3.2 M809.6,460.00 h-3.2 M103.7,447.95 h3.2 M809.6,447.95 h-3.2 M103.7,436.87 h3.2 M809.6,436.87 h-3.2 M103.7,426.60 h3.2 M809.6,426.60 h-3.2 M103.7,408.11 h3.2 M809.6,408.11 h-3.2 M103.7,399.72 h3.2 M809.6,399.72 h-3.2 M103.7,391.80 h3.2 M809.6,391.80 h-3.2 M103.7,384.31 h3.2 M809.6,384.31 h-3.2 M103.7,281.22 h3.2 M809.6,281.22 h-3.2 M103.7,225.07 h3.2 M809.6,225.07 h-3.2 M103.7,185.23 h3.2 M809.6,185.23 h-3.2 M103.7,168.92 h3.2 M809.6,168.92 h-3.2 M103.7,141.13 h3.2 M809.6,141.13 h-3.2 M103.7,129.08 h3.2 M809.6,129.08 h-3.2 M103.7,118.00 h3.2 M809.6,118.00 h-3.2 M103.7,107.73 h3.2 M809.6,107.73 h-3.2 M103.7,89.24 h3.2 M809.6,89.24 h-3.2 M103.7,80.85 h3.2 M809.6,80.85 h-3.2 M103.7,72.93 h3.2 M809.6,72.93 h-3.2 M103.7,65.44 h3.2 M809.6,65.44 h-3.2" stroke="#454545" stroke-width="1" fill="none"/>
<g font-size="30.5"><text x="207.6" y="510.0" text-anchor="middle">10</text><text x="295.8" y="510.0" text-anchor="middle">20</text><text x="413.3" y="510.0" text-anchor="middle">50</text><text x="502.8" y="510.0" text-anchor="middle">100</text><text x="590.4" y="510.0" text-anchor="middle">200</text><text x="708.1" y="510.0" text-anchor="middle">500</text><text x="798.5" y="510.0" text-anchor="middle">1000</text><text x="99.5" y="484.5" text-anchor="end">100</text><text x="99.5" y="388.5" text-anchor="end">200</text><text x="99.5" y="261.6" text-anchor="end">500</text><text x="99.5" y="165.6" text-anchor="end">1000</text><text x="99.5" y="69.6" text-anchor="end">2000</text>
<text x="408.8" y="560.2" font-size="30.4" transform="translate(408.8,0) scale(1.12,1) translate(-408.8,0)">f</text><text x="423.4" y="560.2" font-size="30.4">,</text><text x="442.0" y="560.2" font-size="30.4">MHz</text>
</g>
<!-- script F -->
<g fill="none" stroke="#000" stroke-linecap="round" stroke-linejoin="round">
<path d="M11.9,232.2 C13.2,230.5 15.5,230.2 18.5,230.5 L31.8,230.4 L31,232.3" stroke-width="1.7"/>
<path d="M19.8,231 C18.6,236 17.9,239 17.1,241.5 C15.9,245.6 14.6,248.6 12.9,250.5" stroke-width="2"/>
<path d="M12.9,250.5 C11.6,251.9 10,252.4 8.8,251.9 C7.9,251.5 7.4,250.8 7.3,250.2" stroke-width="1.6"/>
<path d="M17.6,241.3 L27.6,240.6" stroke-width="1.5"/>
<circle cx="7.7" cy="250.2" r="1.45" fill="#000" stroke="none"/>
</g>
</svg>
</body></html>
